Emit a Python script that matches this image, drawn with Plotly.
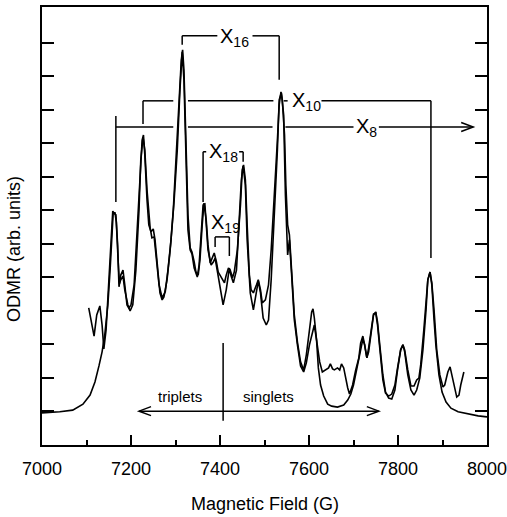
import plotly.graph_objects as go

# ---- data ----
field_sim = [7000, 7040, 7069, 7092, 7108, 7119, 7128, 7135, 7141, 7148, 7153, 7157, 7160, 7164, 7167, 7171,
             7174, 7177, 7182, 7186, 7193, 7198, 7204, 7211, 7218, 7222, 7227, 7231, 7236, 7243, 7247, 7252,
             7256, 7263, 7270, 7277, 7283, 7290, 7297, 7304, 7310, 7315, 7319, 7324, 7328, 7333, 7337, 7342,
             7349, 7353, 7358, 7362, 7366, 7369, 7373, 7380, 7385, 7389, 7394, 7400, 7407, 7414, 7421, 7425,
             7430, 7437, 7443, 7448, 7452, 7457, 7461, 7468, 7475, 7482, 7486, 7491, 7497, 7504, 7509, 7515,
             7522, 7529, 7533, 7538, 7543, 7547, 7552, 7556, 7561, 7567, 7574, 7581, 7588, 7594, 7601, 7608,
             7612, 7617, 7621, 7626, 7633, 7642, 7651, 7664, 7678, 7687, 7694, 7700, 7707, 7714, 7721, 7725,
             7730, 7734, 7741, 7745, 7750, 7754, 7759, 7766, 7772, 7779, 7786, 7793, 7799, 7806, 7811, 7815,
             7822, 7829, 7836, 7842, 7849, 7856, 7863, 7867, 7872, 7876, 7881, 7885, 7892, 7899, 7908, 7919,
             7935, 7957, 7980, 8000]
odmr_sim = [0.96, 0.99, 1.04, 1.22, 1.49, 1.88, 2.36, 2.78, 3.28, 4.18, 5.22, 6.48, 6.93, 6.93, 6.66, 5.52,
            4.81, 4.93, 5.04, 4.63, 4.18, 4.00, 4.18, 5.22, 7.01, 8.51, 9.19, 8.81, 7.61, 6.48, 6.18, 6.21,
            5.67, 4.78, 4.39, 4.57, 5.22, 6.12, 7.31, 8.81, 10.60, 11.73, 10.90, 8.51, 6.42, 5.82, 5.70, 5.28,
            5.01, 5.37, 6.27, 7.16, 7.19, 6.57, 5.82, 5.37, 5.46, 5.58, 5.16, 4.63, 4.18, 4.63, 5.28, 5.04,
            4.84, 5.22, 6.72, 7.91, 8.33, 7.76, 6.12, 4.54, 4.03, 4.63, 4.90, 4.54, 3.79, 3.58, 3.73, 4.93,
            6.72, 8.81, 10.30, 10.51, 9.85, 7.46, 5.67, 6.12, 5.07, 3.73, 2.99, 2.36, 2.18, 2.45, 2.99, 3.43,
            3.58, 3.13, 2.30, 1.79, 1.46, 1.22, 1.16, 1.13, 1.19, 1.34, 1.52, 1.79, 2.24, 2.78, 3.16, 2.99,
            2.60, 2.78, 3.43, 3.88, 3.97, 3.67, 2.99, 2.09, 1.58, 1.40, 1.37, 1.64, 2.24, 2.84, 2.99, 2.78,
            2.09, 1.64, 1.49, 1.64, 2.00, 2.84, 4.03, 4.93, 5.16, 4.78, 3.73, 2.99, 2.09, 1.58, 1.28, 1.10,
            0.99, 0.93, 0.87, 0.84]

field_exp = [7105, 7110, 7117, 7123, 7130, 7135, 7139, 7144, 7148, 7153, 7157, 7159, 7163, 7166, 7170, 7173,
             7177, 7182, 7186, 7191, 7195, 7200, 7207, 7213, 7220, 7225, 7228, 7231, 7236, 7240, 7245, 7250,
             7254, 7259, 7265, 7270, 7274, 7281, 7288, 7295, 7301, 7308, 7313, 7316, 7319, 7324, 7328, 7333,
             7337, 7342, 7346, 7351, 7355, 7360, 7364, 7369, 7373, 7378, 7382, 7387, 7392, 7396, 7400, 7405,
             7410, 7414, 7419, 7423, 7428, 7432, 7439, 7446, 7450, 7453, 7457, 7461, 7466, 7470, 7475, 7482,
             7486, 7491, 7495, 7502, 7509, 7515, 7522, 7529, 7533, 7537, 7540, 7545, 7548, 7552, 7556, 7559,
             7563, 7567, 7574, 7581, 7588, 7594, 7601, 7606, 7609, 7612, 7617, 7624, 7630, 7637, 7644, 7648,
             7653, 7657, 7664, 7669, 7673, 7678, 7682, 7687, 7691, 7698, 7705, 7712, 7716, 7721, 7725, 7730,
             7734, 7741, 7745, 7750, 7754, 7759, 7766, 7772, 7779, 7786, 7793, 7799, 7806, 7811, 7815, 7822,
             7829, 7836, 7842, 7847, 7851, 7858, 7863, 7867, 7872, 7876, 7881, 7887, 7894, 7901, 7905, 7912,
             7917, 7921, 7926, 7932, 7937, 7941, 7948]
odmr_exp = [4.09, 3.73, 3.25, 3.88, 4.15, 3.58, 2.87, 3.43, 4.33, 5.46, 6.57, 6.98, 6.90, 6.87, 5.97, 4.72,
            5.07, 5.22, 4.78, 4.18, 4.09, 4.18, 4.78, 6.12, 8.06, 9.10, 9.25, 8.66, 7.31, 6.57, 6.36, 6.45,
            6.12, 5.37, 4.54, 4.33, 4.42, 4.93, 5.82, 7.01, 8.51, 10.15, 11.49, 11.79, 11.19, 8.81, 6.87, 5.88,
            5.76, 5.46, 5.16, 5.07, 5.52, 6.57, 7.22, 6.72, 5.97, 5.43, 5.58, 5.73, 5.46, 5.16, 5.07, 4.93,
            4.84, 5.07, 5.28, 5.22, 4.99, 5.16, 5.82, 7.16, 8.21, 8.36, 7.91, 6.57, 5.07, 4.63, 4.54, 4.78,
            4.93, 4.63, 4.24, 4.33, 4.78, 5.82, 7.31, 9.10, 10.15, 10.54, 10.30, 9.25, 7.76, 6.57, 6.27, 5.67,
            4.93, 3.88, 3.07, 2.48, 2.24, 2.69, 3.43, 3.97, 4.06, 3.79, 3.13, 2.48, 2.18, 2.24, 2.30, 2.42,
            2.27, 2.24, 2.30, 2.24, 2.42, 2.30, 2.00, 1.70, 1.52, 1.79, 2.24, 2.60, 3.04, 3.25, 2.99, 2.60,
            2.90, 3.58, 3.91, 3.94, 3.58, 2.90, 1.94, 1.55, 1.46, 1.52, 1.79, 2.30, 2.84, 2.99, 2.84, 2.24,
            1.76, 1.76, 1.94, 2.00, 2.39, 3.43, 4.33, 4.93, 5.16, 4.84, 4.03, 2.84, 2.09, 1.73, 1.79, 2.18,
            2.33, 2.09, 1.70, 1.43, 1.49, 1.79, 2.18]

x_tick_vals = [7000, 7200, 7400, 7600, 7800, 8000]
x_tick_labels = ["7000", "7200", "7400", "7600", "7800", "8000"]
x_minor_vals = [7100, 7300, 7500, 7700, 7900]
y_tick_vals = [1, 2, 3, 4, 5, 6, 7, 8, 9, 10, 11, 12]

# line-assignment brackets: field positions of the assigned peaks
x16_left, x16_right = 7315, 7533
x10_left, x10_right = 7227, 7874
x8_left, x8_arrow = 7166, 7969
x18_left, x18_right = 7362, 7452
x19_left, x19_right = 7389, 7421
divider = 7407
trip_end, sing_end = 7218, 7757

FONT = "Liberation Sans, Arial, Helvetica, sans-serif"
LW = 1.6

fig = go.Figure()
fig.add_trace(go.Scatter(x=field_sim, y=odmr_sim, mode="lines",
                         line=dict(color="black", width=LW), hoverinfo="skip"))
fig.add_trace(go.Scatter(x=field_exp, y=odmr_exp, mode="lines",
                         line=dict(color="black", width=LW), hoverinfo="skip"))

shapes = []


def seg(x0, y0, x1, y1):
    shapes.append(dict(type="line", xref="x", yref="y", x0=x0, y0=y0, x1=x1, y1=y1,
                       line=dict(color="black", width=1.5)))


def chevron(xtip, y, direction):
    dx, dy = 27 * direction, 0.134
    shapes.append(dict(type="path", xref="x", yref="y",
                       path=f"M {xtip - dx},{y + dy} L {xtip},{y} L {xtip - dx},{y - dy}",
                       line=dict(color="black", width=1.5)))


# X16
y16 = 12.21
seg(x16_left, 11.94, x16_left, y16)
seg(x16_left, y16, 7394, y16)
seg(7473, y16, x16_right, y16)
seg(x16_right, y16, x16_right, 10.90)
# X10
y10 = 10.27
seg(x10_left, 9.58, x10_left, y10)
seg(x10_left, y10, 7295, y10)
seg(7328, y10, 7520, y10)
seg(7543, y10, 7552, y10)
seg(7628, y10, x10_right, y10)
seg(x10_right, y10, x10_right, 5.58)
# X8
y8 = 9.49
seg(x8_left, 9.82, x8_left, 7.25)
seg(x8_left, y8, 7295, y8)
seg(7328, y8, 7518, y8)
seg(7547, y8, 7700, y8)
seg(7757, y8, x8_arrow, y8)
chevron(x8_arrow, y8, 1)
# X18
y18 = 8.75
seg(x18_left, 7.25, x18_left, y18)
seg(x18_left, y18, x18_left + 7, y18)
seg(x18_right, 8.45, x18_right, y18)
seg(x18_right - 9, y18, x18_right, y18)
# X19
y19 = 6.21
seg(x19_left, 5.91, x19_left, y19)
seg(x19_left, y19, x19_right, y19)
seg(x19_right, y19, x19_right, 5.64)
# triplets / singlets
seg(divider, 0.72, divider, 3.04)
seg(trip_end, 1.01, sing_end, 1.01)
chevron(trip_end, 1.01, -1)
chevron(sing_end, 1.01, 1)

ann_font = dict(family=FONT, size=20, color="black")
annotations = [
    dict(x=7432, y=12.16, text="X<sub>16</sub>"),
    dict(x=7595, y=10.24, text="X<sub>10</sub>"),
    dict(x=7730, y=9.46, text="X<sub>8</sub>"),
    dict(x=7407, y=8.72, text="X<sub>18</sub>"),
    dict(x=7412, y=6.60, text="X<sub>19</sub>"),
]
for a in annotations:
    a.update(xref="x", yref="y", showarrow=False, font=ann_font)
annotations += [
    dict(x=7309, y=1.45, xref="x", yref="y", text="triplets", showarrow=False,
         font=dict(family=FONT, size=15, color="black")),
    dict(x=7509, y=1.45, xref="x", yref="y", text="singlets", showarrow=False,
         font=dict(family=FONT, size=15, color="black")),
    dict(x=0.501, y=-0.1347, xref="paper", yref="paper", text="Magnetic Field (G)",
         showarrow=False, yanchor="middle", font=dict(family=FONT, size=18, color="black")),
    dict(x=-0.063, y=5.85, xref="paper", yref="y", text="ODMR (arb. units)", textangle=-90,
         showarrow=False, xanchor="center", font=dict(family=FONT, size=18, color="black")),
]

fig.update_layout(
    width=507, height=517,
    margin=dict(l=42, r=20, t=7, b=72, autoexpand=False),
    paper_bgcolor="white", plot_bgcolor="white",
    showlegend=False,
    shapes=shapes, annotations=annotations,
    xaxis=dict(range=[7000, 8000], tickmode="array", tickvals=x_tick_vals, ticktext=x_tick_labels,
               ticks="inside", ticklen=10, tickwidth=1.5, tickcolor="black",
               minor=dict(ticks="inside", ticklen=5, tickwidth=1.5, tickcolor="black",
                          tickvals=x_minor_vals, showgrid=False),
               showline=True, linecolor="black", linewidth=2, mirror=True,
               showgrid=False, zeroline=False, ticklabelstandoff=6,
               ticklabeloverflow="allow", automargin=False,
               tickfont=dict(family=FONT, size=18, color="black")),
    yaxis=dict(range=[0, 13.07], tickmode="array", tickvals=y_tick_vals, showticklabels=False,
               ticks="inside", ticklen=12, tickwidth=1.5, tickcolor="black",
               showline=True, linecolor="black", linewidth=2, mirror="ticks",
               showgrid=False, zeroline=False, automargin=False),
)

fig.write_html("out.html", config={"displayModeBar": False},
               post_script="document.body.style.margin='0';")
